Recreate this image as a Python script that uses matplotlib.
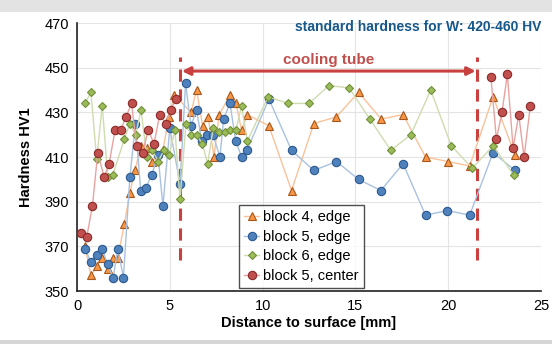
import numpy as np
import matplotlib
matplotlib.use("Agg")
import matplotlib.pyplot as plt
from matplotlib.patches import Rectangle

plt.rcParams["font.family"] = ["Liberation Sans", "DejaVu Sans"]

# ---------------- data ----------------
b4_edge_x = [0.43, 0.75, 1.06, 1.35, 1.65, 1.95, 2.2, 2.55, 2.85, 3.12, 3.45, 3.75, 4.05, 4.63,
             4.95, 5.24, 6.14, 6.44, 6.77, 7.07, 7.38, 7.66, 8.27, 8.56, 8.87, 9.17, 10.34,
             11.56, 12.76, 13.98, 15.17, 16.39, 17.57, 18.78, 19.99, 21.16, 22.42, 23.6]
b4_edge_y = [370, 357, 361, 365, 360, 365, 365, 380, 394, 404, 415, 414, 408, 413,
             428, 438, 430, 440, 424, 428, 410, 429, 438, 434, 422, 429, 424,
             395, 425, 428, 439, 427, 429, 410, 408, 406, 437, 411]

b5_edge_x = [0.43, 0.75, 1.06, 1.35, 1.65, 1.95, 2.2, 2.5, 2.85, 3.15, 3.43, 3.7, 4.03, 4.36,
             4.63, 5.0, 5.55, 5.85, 6.14, 6.44, 6.73, 7.03, 7.33, 7.7, 7.9, 8.24, 8.56, 8.87,
             9.16, 10.34, 11.56, 12.76, 13.98, 15.17, 16.37, 17.57, 18.78, 19.96, 21.16,
             22.42, 23.6]
b5_edge_y = [369, 363, 366, 369, 362, 356, 369, 356, 401, 425, 395, 396, 402, 411,
             388, 423, 398, 443, 424, 431, 417, 420, 420, 410, 427, 434, 417, 410,
             413, 436, 413, 404, 408, 400, 395, 407, 384, 386, 384,
             412, 404]

b6_edge_x = [0.43, 0.75, 1.06, 1.36, 1.66, 1.93, 2.55, 2.85, 3.16, 3.45, 3.77, 4.06, 4.38,
             4.68, 4.97, 5.28, 5.55, 5.87, 6.14, 6.44, 6.75, 7.04, 7.34, 7.65, 7.97, 8.27,
             8.56, 8.87, 9.17, 10.3, 11.38, 12.5, 13.57, 14.66, 15.78, 16.91, 17.99, 19.06,
             20.17, 21.3, 22.42, 23.53]
b6_edge_y = [434, 439, 409, 433, 401, 402, 418, 425, 420, 431, 410, 413, 408,
             413, 411, 422, 391, 425, 420, 420, 416, 407, 423, 421, 421, 422,
             422, 433, 417, 437, 434, 434, 442, 441, 427, 413, 420, 440,
             415, 405, 415, 402]

b5_center_x = [0.22, 0.52, 0.83, 1.12, 1.46, 1.73, 2.05, 2.35, 2.64, 2.94, 3.21, 3.53, 3.84,
               4.15, 4.46, 4.78, 5.04, 5.34, np.nan, 22.3, 22.6, 22.9, 23.19, 23.5, 23.8,
               24.09, 24.43]
b5_center_y = [376, 374, 388, 412, 401, 407, 422, 422, 428, 434, 415, 412, 422,
               416, 429, 425, 431, 436, np.nan, 446, 418, 430, 447, 414, 429,
               410, 433]

series_labels = ["block 4, edge", "block 5, edge", "block 6, edge", "block 5, center"]
x_ticks = [0, 5, 10, 15, 20, 25]
y_ticks = [350, 370, 390, 410, 430, 450, 470]
tube_start, tube_end = 5.55, 21.58

# ---------------- figure ----------------
fig = plt.figure(figsize=(5.52, 3.44), dpi=100)
fig.patch.set_facecolor("white")
# light grey screenshot frame
fig.patches.append(Rectangle((0, 0.965), 1, 0.035, transform=fig.transFigure,
                             facecolor="#e3e3e3", edgecolor="none", zorder=-5))
fig.patches.append(Rectangle((0, 0), 1, 0.012, transform=fig.transFigure,
                             facecolor="#d6d6d6", edgecolor="none", zorder=-5))

ax = fig.add_axes([0.1395, 0.154, 0.8405, 0.779])

styles = [
    dict(marker="^", mfc="#f79646", mec="#a8571a", lc="#f9c29a", ms=6),
    dict(marker="o", mfc="#4f81bd", mec="#2c5a8f", lc="#a9c1e0", ms=6),
    dict(marker="D", mfc="#9bbb59", mec="#6f8f36", lc="#cfdcb0", ms=4.5),
    dict(marker="o", mfc="#c0504d", mec="#8b2a28", lc="#e8a3a1", ms=6),
]
data = [(b4_edge_x, b4_edge_y), (b5_edge_x, b5_edge_y),
        (b6_edge_x, b6_edge_y), (b5_center_x, b5_center_y)]

for (xs, ys), st, lab in zip(data, styles, series_labels):
    ax.plot(xs, ys, color=st["lc"], lw=1.0, marker=st["marker"], ms=st["ms"],
            mfc=st["mfc"], mec=st["mec"], mew=0.8, label=lab, zorder=3)

ax.set_xlim(0, 25)
ax.set_ylim(350, 470)
ax.set_xticks(x_ticks)
ax.set_yticks(y_ticks)
ax.tick_params(length=0, labelsize=10.5, pad=6)
ax.grid(True, color="#e4e4e4", lw=0.8, zorder=0)
ax.set_axisbelow(True)
for s in ["top", "right"]:
    ax.spines[s].set_visible(False)
for s in ["left", "bottom"]:
    ax.spines[s].set_color("#222222")
    ax.spines[s].set_linewidth(1.2)

ax.set_xlabel("Distance to surface [mm]", fontsize=10.5, fontweight="bold", labelpad=2)
ax.set_ylabel("Hardness HV1", fontsize=10.5, fontweight="bold", labelpad=8)

# cooling tube markers
dash_red = "#c9413f"
for xv in (tube_start, tube_end):
    ax.plot([xv, xv], [364, 455], color=dash_red, lw=2.2, ls=(0, (4, 2.5)), zorder=2)
ax.annotate("", xy=(tube_start + 0.1, 448.5), xytext=(tube_end - 0.1, 448.5),
            arrowprops=dict(arrowstyle="<|-|>", color=dash_red, lw=2.2,
                            mutation_scale=12, shrinkA=0, shrinkB=0), zorder=2)
ax.text((tube_start + tube_end) / 2, 450.5, "cooling tube", color="#c0504d",
        fontsize=11, fontweight="bold", ha="center", va="bottom")

ax.text(1.0, 1.012, "standard hardness for W: 420-460 HV", transform=ax.transAxes,
        color="#17588a", fontsize=10, fontweight="bold", ha="right", va="top")

leg = ax.legend(loc="lower left", bbox_to_anchor=(0.35, 0.012), fontsize=10.5,
                frameon=True, fancybox=False, handlelength=1.0, handletextpad=0.3,
                borderpad=0.35, labelspacing=0.38, borderaxespad=0)
leg.get_frame().set_edgecolor("#222222")
leg.get_frame().set_linewidth(1.0)

fig.savefig("out.png", dpi=100)
